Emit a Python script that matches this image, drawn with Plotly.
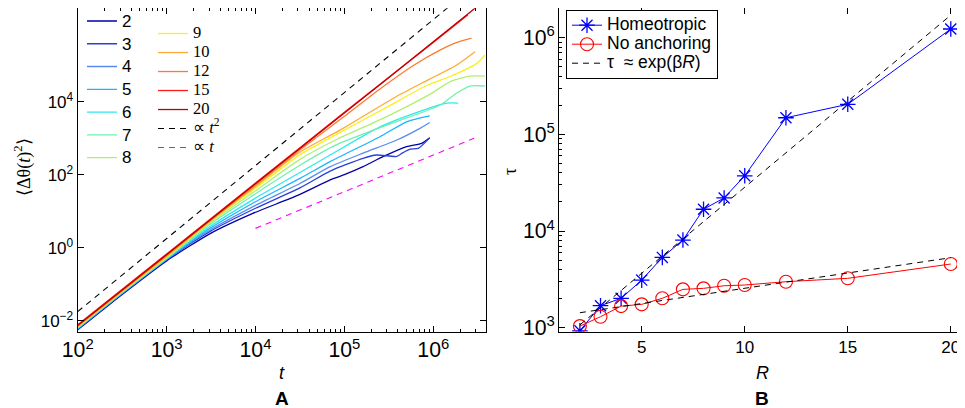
import numpy as np
import plotly.graph_objects as go

# ---------------- Panel A data (log10 values) ----------------
R_labels = ["2", "3", "4", "5", "6", "7", "8", "9", "10", "12", "15", "20"]
R_colors = ["#0000a8", "#2a3fd8", "#5a8cf0", "#1eb4ff", "#30e8f0", "#70f0b0",
            "#b0f070", "#f8f020", "#ffaa30", "#ff7a30", "#ff1a1a", "#c00000"]

lt_2 = [2.0, 2.5, 3.0, 3.5, 3.97, 4.48, 4.84, 5.0, 5.21, 5.44, 5.70, 5.87, 5.96]
ly_2 = [-2.25, -1.28, -0.36, 0.40, 0.94, 1.44, 1.86, 2.0, 2.22, 2.50, 2.77, 2.86, 3.01]
lt_3 = [2.0, 2.5, 3.0, 3.5, 4.0, 4.5, 4.84, 5.21, 5.36, 5.59, 5.65, 5.74, 5.83, 5.96]
ly_3 = [-2.23, -1.26, -0.33, 0.46, 1.08, 1.64, 2.10, 2.45, 2.54, 2.50, 2.59, 2.70, 2.72, 3.01]
lt_4 = [2.0, 2.5, 3.0, 3.5, 4.0, 4.5, 4.84, 5.21, 5.59, 5.85, 5.96]
ly_4 = [-2.22, -1.25, -0.32, 0.50, 1.16, 1.76, 2.22, 2.59, 2.95, 3.27, 3.43]
lt_5 = [2.0, 2.5, 3.0, 3.5, 4.0, 4.5, 4.84, 5.40, 5.70, 5.96]
ly_5 = [-2.21, -1.24, -0.31, 0.55, 1.26, 1.90, 2.36, 3.04, 3.45, 3.61]
lt_6 = [2.0, 2.5, 3.0, 3.5, 4.0, 4.5, 4.84, 5.40, 5.89, 6.15, 6.28]
ly_6 = [-2.20, -1.23, -0.30, 0.60, 1.36, 2.06, 2.54, 3.31, 3.77, 3.96, 3.96]
lt_7 = [2.0, 2.5, 3.0, 3.5, 4.0, 4.5, 4.9, 5.5, 6.08, 6.26, 6.41, 6.58]
ly_7 = [-2.19, -1.22, -0.29, 0.66, 1.48, 2.26, 2.81, 3.38, 3.91, 4.23, 4.43, 4.43]
lt_8 = [2.0, 2.5, 3.0, 3.5, 4.0, 4.5, 4.9, 5.5, 5.96, 6.19, 6.41, 6.58]
ly_8 = [-2.18, -1.21, -0.27, 0.70, 1.56, 2.42, 2.95, 3.62, 4.20, 4.55, 4.70, 4.70]
lt_9 = [2.0, 2.5, 3.0, 3.5, 4.0, 4.5, 4.9, 5.5, 5.93, 6.19, 6.49, 6.58]
ly_9 = [-2.17, -1.20, -0.26, 0.73, 1.63, 2.55, 3.09, 3.88, 4.45, 4.69, 5.05, 5.28]
lt_10 = [2.0, 2.5, 3.0, 3.5, 4.0, 4.5, 4.95, 5.59, 5.96, 6.26, 6.47]
ly_10 = [-2.16, -1.19, -0.24, 0.75, 1.68, 2.62, 3.22, 4.15, 4.62, 5.00, 5.37]
lt_12 = [2.0, 2.5, 3.0, 3.5, 4.0, 4.5, 5.0, 5.4, 5.78, 6.08, 6.26, 6.43]
ly_12 = [-2.14, -1.17, -0.21, 0.76, 1.72, 2.68, 3.60, 4.35, 5.00, 5.42, 5.62, 5.74]
lt_15 = [2.0, 3.0, 4.0, 5.0, 6.0, 6.39]
ly_15 = [-2.11, -0.17, 1.77, 3.71, 5.62, 6.38]
lt_20 = [2.0, 3.0, 4.0, 5.0, 6.0, 6.52]
ly_20 = [-2.13, -0.19, 1.75, 3.69, 5.64, 6.66]

lt_all = [lt_2, lt_3, lt_4, lt_5, lt_6, lt_7, lt_8, lt_9, lt_10, lt_12, lt_15, lt_20]
ly_all = [ly_2, ly_3, ly_4, ly_5, ly_6, ly_7, ly_8, ly_9, ly_10, ly_12, ly_15, ly_20]

lt_t2 = [2.0, 6.6]
ly_t2 = [-1.75, 7.45]
lt_t1 = [4.0, 6.46]
ly_t1 = [0.53, 3.0]

# ---------------- Panel B data ----------------
R_vals = [2, 3, 4, 5, 6, 7, 8, 9, 10, 12, 15, 20]
tau_homeo = [930, 1690, 2015, 3110, 5340, 8070, 16800, 22000, 37300, 148600, 204700, 1230000]
tau_noanch = [1040, 1300, 1675, 1745, 2015, 2494, 2555, 2718, 2765, 2994, 3244, 4560]
fit_R = [2, 20]
fit_homeo = [1070, 1710000]
fit_noanch = [1430, 5300]

W, H = 965, 408
OFF = 8  # page body margin of the browser


def pxx(px):
    return (px - OFF) / W


def pyy(px):
    return (H - (px - OFF)) / H


def span(txt, size):
    return '<span style="font-size:%gpx">%s</span>' % (size, txt)


fig = go.Figure()

for i, (lab, col, lt, ly) in enumerate(zip(R_labels, R_colors, lt_all, ly_all)):
    fig.add_trace(go.Scatter(
        x=10 ** np.array(lt), y=10 ** np.array(ly), mode="lines",
        line=dict(color=col, width=1.3, shape="spline", smoothing=0.6),
        name=span(lab, 17) if i < 7 else span(lab, 16.5),
        legend="legend" if i < 7 else "legend2",
        xaxis="x", yaxis="y"))

fig.add_trace(go.Scatter(x=10 ** np.array(lt_t2), y=10 ** np.array(ly_t2), mode="lines",
                         line=dict(color="black", width=1.1, dash="6px,5px"),
                         name=span("∝ <i>t</i><sup>2</sup>", 16.5), legend="legend2",
                         xaxis="x", yaxis="y"))
fig.add_trace(go.Scatter(x=10 ** np.array(lt_t1), y=10 ** np.array(ly_t1), mode="lines",
                         line=dict(color="#ff00ff", width=1.1, dash="6px,5px"),
                         name=span("∝ <i>t</i>", 16.5), legend="legend2", xaxis="x", yaxis="y"))

# Panel B
fig.add_trace(go.Scatter(x=R_vals, y=tau_homeo, mode="lines+markers", name=span("Homeotropic", 17.5),
                         line=dict(color="#0000ff", width=1),
                         marker=dict(symbol="asterisk", size=13, line=dict(color="#0000ff", width=1.3)),
                         legend="legend3", xaxis="x2", yaxis="y2"))
fig.add_trace(go.Scatter(x=R_vals, y=tau_noanch, mode="lines+markers", name=span("No anchoring", 17.5),
                         line=dict(color="#ff0000", width=1),
                         marker=dict(symbol="circle-open", size=13, line=dict(color="#ff0000", width=1.1)),
                         legend="legend3", xaxis="x2", yaxis="y2"))
fig.add_trace(go.Scatter(x=fit_R, y=fit_homeo, mode="lines", name=span("τ  ≈ exp(β<i>R</i>)", 17.5),
                         line=dict(color="black", width=1, dash="6px,5px"),
                         legend="legend3", xaxis="x2", yaxis="y2"))
fig.add_trace(go.Scatter(x=fit_R, y=fit_noanch, mode="lines", showlegend=False,
                         line=dict(color="black", width=1, dash="6px,5px"),
                         xaxis="x2", yaxis="y2"))

tickfont = dict(family="Liberation Sans", size=17, color="black")
axis_common = dict(showline=True, linecolor="black", linewidth=1.2, ticks="inside",
                   ticklen=6, tickcolor="black", showgrid=False, zeroline=False,
                   tickfont=tickfont, automargin=False)

# legend geometry helpers (plotly: item height = 1.3*font + 3, first item centre = top + 6 + h/2)
fs1, fs2, fs3 = 15.2, 11.5, 12.0
h1, h2, h3 = 1.3 * fs1 + 3, 1.3 * fs2 + 3, 1.3 * fs3 + 3
top1 = 22 - h1 / 2 - 6
top2 = 34 - h2 / 2 - 6
top3 = 43.6 - 1.5 * h3 - 6


def label(text, x, y, size, family="Liberation Sans", angle=0):
    return dict(text=text, x=pxx(x), y=pyy(y), xref="paper", yref="paper",
                xanchor="center", yanchor="middle", textangle=angle, showarrow=False,
                font=dict(family=family, size=size, color="black"))


fig.update_layout(
    width=W, height=H, margin=dict(l=0, r=0, t=0, b=0, pad=0, autoexpand=False),
    plot_bgcolor="white", paper_bgcolor="white",
    xaxis=dict(type="log", range=[2, 6.593], domain=[pxx(77.7), pxx(486)],
               dtick=1, exponentformat="power", mirror="allticks",
               minor=dict(ticks="inside", ticklen=3, tickcolor="black"),
               anchor="y", **axis_common),
    yaxis=dict(type="log", range=[-2.301, 6.559], domain=[pyy(331.7), pyy(8.3)],
               tickvals=[1e-2, 1, 1e2, 1e4],
               ticktext=["10<sup>−2</sup>", "10<sup>0</sup>", "10<sup>2</sup>", "10<sup>4</sup>"],
               mirror="allticks", anchor="x", **axis_common),
    xaxis2=dict(range=[1, 20.69], domain=[pxx(559.3), pxx(965)], tickvals=[5, 10, 15, 20],
                mirror="allticks", anchor="y2", **axis_common),
    yaxis2=dict(type="log", range=[2.959, 6.304], domain=[pyy(331.7), pyy(8.3)],
                dtick=1, exponentformat="power",
                minor=dict(ticks="inside", ticklen=3, tickcolor="black"),
                anchor="x2", **axis_common),
    legend=dict(x=pxx(82), y=pyy(top1), xanchor="left", yanchor="top", borderwidth=0,
                bgcolor="rgba(0,0,0,0)", font=dict(family="Liberation Sans", size=fs1, color="black")),
    legend2=dict(x=pxx(153), y=pyy(top2), xanchor="left", yanchor="top", borderwidth=0,
                 bgcolor="rgba(0,0,0,0)", font=dict(family="Liberation Serif", size=fs2, color="black")),
    legend3=dict(x=pxx(566), y=pyy(top3), xanchor="left", yanchor="top",
                 bgcolor="white", bordercolor="black", borderwidth=1,
                 font=dict(family="Liberation Sans", size=fs3, color="black")),
    annotations=[
        label("<i>t</i>", 282, 373, 18),
        label("<b>A</b>", 282, 398, 19),
        label("<i>R</i>", 762, 373, 18),
        label("<b>B</b>", 762, 398, 19),
        label("⟨Δθ(<i>t</i>)<sup>2</sup>⟩", 23, 167, 18, "Liberation Serif", -90),
        label("τ", 510, 172, 18, "Liberation Serif", -90),
    ],
)

fig.write_html("out.html")
